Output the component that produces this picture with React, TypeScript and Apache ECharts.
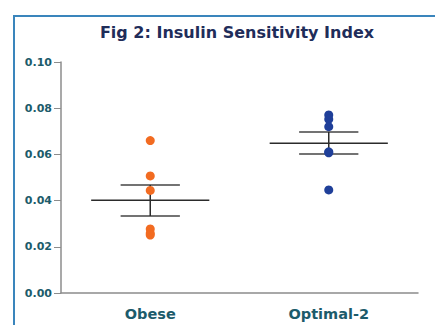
import React, { useEffect, useRef } from "react";
import * as echarts from "echarts";

const categories = ["Obese", "Optimal-2"];
const obeseValues = [0.066, 0.0507, 0.0444, 0.0277, 0.0259, 0.0251];
const optimalValues = [0.0771, 0.0752, 0.072, 0.0611, 0.0607, 0.0446];
const means = [0.0401, 0.0648];
const errUpper = [0.0468, 0.0697];
const errLower = [0.0333, 0.0602];
const yTicks = [0, 0.02, 0.04, 0.06, 0.08, 0.1];

export default function App() {
  const ref = useRef<HTMLDivElement>(null);
  useEffect(() => {
    if (!ref.current) return;
    const chart = echarts.init(ref.current, null, { renderer: "svg" });
    const labelColor = "#1c5b6b";
    const summary = categories.map((_, i) => [i, means[i], errUpper[i], errLower[i]]);
    chart.setOption({
      animation: false,
      backgroundColor: "#ffffff",
      grid: { left: 61, right: 17, top: 62, bottom: 32 },
      graphic: [
        {
          type: "polyline",
          shape: { points: [[14, 325], [14, 16], [435, 16]] },
          style: { stroke: "#3a85bc", lineWidth: 2, fill: null },
          silent: true,
        },
        {
          type: "text",
          x: 237,
          y: 32,
          style: {
            text: "Fig 2: Insulin Sensitivity Index",
            textAlign: "center",
            textVerticalAlign: "middle",
            font: "bold 16px 'DejaVu Sans', Verdana, sans-serif",
            fill: "#1f2d5a",
          },
        },
      ],
      xAxis: {
        type: "category",
        data: categories,
        axisLine: { lineStyle: { color: "#8c8c8c", width: 1.5 } },
        axisTick: { alignWithLabel: true, length: 6, lineStyle: { color: "#8c8c8c" } },
        axisLabel: {
          margin: 13,
          color: labelColor,
          fontWeight: "bold",
          fontSize: 14.5,
          fontFamily: "'DejaVu Sans', Verdana, sans-serif",
        },
        splitLine: { show: false },
      },
      yAxis: {
        type: "value",
        min: yTicks[0],
        max: yTicks[yTicks.length - 1],
        interval: 0.02,
        axisLine: { show: true, lineStyle: { color: "#8c8c8c", width: 1.5 } },
        axisTick: { show: true, length: 7, lineStyle: { color: "#8c8c8c" } },
        axisLabel: {
          margin: 9,
          color: labelColor,
          fontWeight: "bold",
          fontSize: 11,
          fontFamily: "'DejaVu Sans', Verdana, sans-serif",
          formatter: (v: number) => v.toFixed(2),
        },
        splitLine: { show: false },
      },
      series: [
        {
          type: "custom",
          z: 3,
          data: summary,
          renderItem: (params: any, api: any) => {
            const x = api.value(0);
            const m = api.coord([x, api.value(1)]);
            const u = api.coord([x, api.value(2)]);
            const l = api.coord([x, api.value(3)]);
            const band = api.size([1, 0])[0];
            const mh = band * 0.331;
            const ch = band * 0.166;
            const st = { stroke: "#2b2b2b", lineWidth: 1.5 };
            return {
              type: "group",
              children: [
                { type: "line", shape: { x1: m[0] - mh, y1: m[1], x2: m[0] + mh, y2: m[1] }, style: st },
                { type: "line", shape: { x1: u[0] - ch, y1: u[1], x2: u[0] + ch, y2: u[1] }, style: { ...st, stroke: "#444" } },
                { type: "line", shape: { x1: l[0] - ch, y1: l[1], x2: l[0] + ch, y2: l[1] }, style: { ...st, stroke: "#444" } },
                { type: "line", shape: { x1: u[0], y1: u[1], x2: l[0], y2: l[1] }, style: st },
              ],
            };
          },
        },
        {
          type: "scatter",
          z: 4,
          symbolSize: 9,
          itemStyle: { color: "#f26b21", opacity: 1 },
          data: obeseValues.map((v) => [0, v]),
        },
        {
          type: "scatter",
          z: 4,
          symbolSize: 9,
          itemStyle: { color: "#1f3f99", opacity: 1 },
          data: optimalValues.map((v) => [1, v]),
        },
      ],
    });
    return () => chart.dispose();
  }, []);
  return (
    <div
      ref={ref}
      style={{ position: "fixed", left: 0, top: 0, width: 435, height: 325 }}
    />
  );
}
